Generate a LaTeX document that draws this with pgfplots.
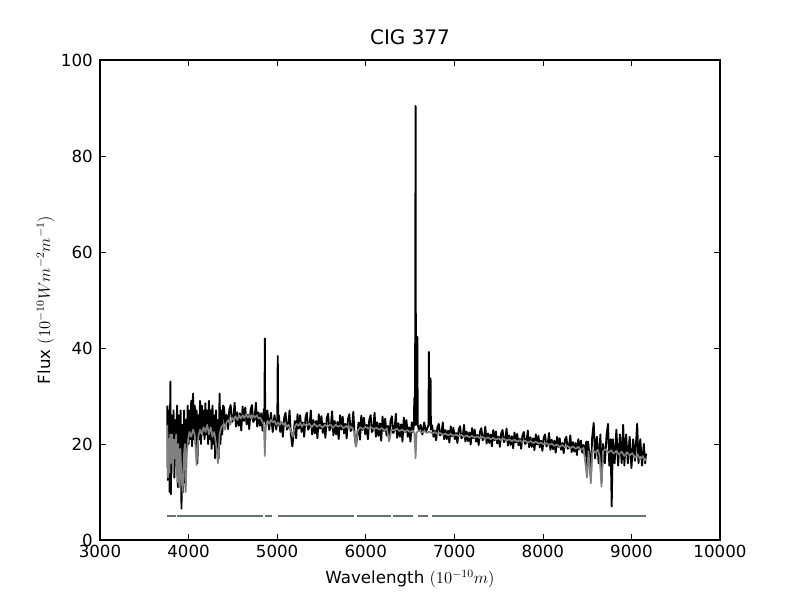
\documentclass[border=0pt]{standalone}
\usepackage{fontspec}
\setmainfont{DejaVu Sans}
\usepackage{pgfplots}
\pgfplotsset{compat=1.18}
\definecolor{maskc}{RGB}{100,114,118}
\definecolor{modelc}{RGB}{128,128,128}
\begin{document}
\begin{tikzpicture}
\path[use as bounding box] (0,0) rectangle (576pt,432pt);
\begin{axis}[
  at={(72pt,43.2pt)}, anchor=south west,
  scale only axis, width=446.4pt, height=345.6pt,
  xmin=3000, xmax=10000, ymin=0, ymax=100,
  xtick={3000,4000,...,10000}, ytick={0,20,...,100},
  minor tick num=0,
  tick align=inside, major tick length=4pt,
  xtick pos=both, ytick pos=both,
  axis line style={line width=0.8pt},
  tick style={line width=0.5pt, black},
  /pgf/number format/assume math mode=true,
  /pgf/number format/1000 sep={},
  scaled ticks=false,
  ticklabel style={font=\fontsize{12}{14}\selectfont},
  xticklabel style={inner sep=0pt, anchor=north, yshift=-3.6pt},
  yticklabel style={inner sep=0pt, anchor=east, xshift=-5pt},
  title={CIG 377},
  title style={font=\fontsize{14.4}{17}\selectfont, at={(axis description cs:0.5,1.0145)}, anchor=base, inner sep=0pt},
  xlabel={Wavelength $(10^{-10}m)$},
  ylabel={Flux $(10^{-10}Wm^{-2}m^{-1})$},
  label style={font=\fontsize{12}{14}\selectfont, inner sep=0pt},
  xlabel style={at={(axis description cs:0.5,-0.0897)}, anchor=base},
  ylabel style={at={(axis description cs:-0.0806,0.5)}, anchor=base},
  unbounded coords=jump,
  clip=true,
]
% observed spectrum
\addplot[black, line width=1.35pt, line join=round] coordinates {
(3760,28) (3765,12.5) (3770,25) (3775,14) (3780,27) (3785,10) (3790,24) (3795,33) (3800,9.5)
(3810,26) (3820,15) (3830,27) (3840,13) (3850,25) (3860,18) (3870,28) (3880,11) (3890,26)
(3900,15) (3910,27) (3920,6.5) (3930,24) (3940,10) (3950,27) (3960,12) (3970,25) (3980,19)
(3990,28) (4000,20) (4010,27) (4020,21) (4030,29) (4040,19.5) (4050,30.5) (4060,21) (4070,28)
(4080,20) (4090,27) (4100,16) (4110,26) (4120,21) (4130,29) (4140,20) (4150,28) (4160,22)
(4170,27) (4180,21) (4190,28.5) (4200,22) (4210,27) (4220,20) (4230,29) (4240,21) (4250,27)
(4260,19) (4270,28) (4280,20) (4290,26) (4300,17) (4310,27) (4320,19) (4330,25) (4340,17)
(4350,30.5) (4360,20) (4370,27) (4380,22) (4390,28)
(4400,27.6) (4415,24.1) (4430,26.1) (4445,23.1) (4460,27.1) (4475,28.1) (4490,24.6) (4505,25.1)
(4520,28.6) (4535,23.6) (4550,26.6) (4565,23.8) (4580,26.4) (4595,22.8) (4610,27.8) (4625,24.8)
(4640,27.6) (4655,24.1) (4670,26.1) (4685,23.1) (4700,27.1) (4715,28.1) (4730,24.6) (4745,25.1)
(4760,28.6) (4775,23.6) (4790,26.6) (4805,23.8) (4820,26.4) (4835,22.8) (4850,27.3)
(4857,25) (4861,42) (4865,25) (4875,24) (4890,27)
(4910,23) (4930,26.5) (4950,22.5) (4970,26) (4990,23) (5002,25) (5007,38.3) (5012,24)
(5020,26) (5035,22.5) (5050,24.5) (5065,21.5) (5080,25.5) (5095,26.5) (5110,23) (5125,23.5)
(5140,27) (5155,22) (5172,19.5) (5185,22.2) (5200,24.8) (5215,21.2) (5230,26.2) (5245,23.2)
(5260,26) (5275,22.5) (5290,24.5) (5305,21.5) (5320,25.5) (5335,26.5) (5350,23) (5365,23.5)
(5380,27) (5395,22) (5410,25) (5425,22.2) (5440,24.8) (5455,21.2) (5470,26.2) (5485,23.2)
(5500,25.8) (5515,22.3) (5530,24.3) (5545,21.3) (5560,25.3) (5575,26.3) (5590,22.8) (5605,23.3)
(5620,26.8) (5635,21.8) (5650,24.8) (5665,22) (5680,24.6) (5695,21) (5710,26) (5725,23)
(5740,25.7) (5755,22.2) (5770,24.2) (5785,21.2) (5800,25.2) (5815,26.2) (5830,22.7) (5845,23.2)
(5860,26.7) (5875,21.7) (5890,19.5) (5905,21.9) (5920,24.5) (5935,20.9) (5950,25.9) (5965,22.9)
(5980,25.5) (5995,22) (6010,24) (6025,21) (6040,25) (6055,26) (6070,22.5) (6085,23)
(6100,26.5) (6115,21.5) (6130,24.5) (6145,21.7) (6160,24.3) (6175,20.7) (6190,25.7) (6205,22.7)
(6220,25.3) (6235,21.8) (6250,23.8) (6265,20.8) (6280,24.8) (6295,25.8) (6310,22.3) (6325,22.8)
(6340,26.3) (6355,21.3) (6370,24.3) (6385,21.5) (6400,24.1) (6415,20.5) (6430,25.5) (6445,22.5)
(6460,25) (6475,21.5) (6490,23.5) (6505,20.5) (6520,24.5) (6535,22.5)
(6540,23.5) (6546,25) (6548,29.6) (6550,24) (6557,24)
(6563,90.4) (6567,24) (6578,25) (6583,42.3) (6587,24) (6600,23) (6620,24) (6640,22)
(6660,24.5) (6680,22.5) (6700,23.5) (6709,24) (6713,39.2) (6717,24) (6727,24) (6732,33.7)
(6736,23)
(6750,23.9) (6765,21.5) (6780,22.8) (6795,20.8) (6810,23.5) (6825,24.2) (6840,21.8) (6855,22.1)
(6870,24.5) (6885,21) (6900,22.9) (6915,21) (6930,22.8) (6945,20.3) (6960,23.7) (6975,21.6)
(6990,23.4) (7005,21) (7020,22.3) (7035,20.2) (7050,23) (7065,23.7) (7080,21.2) (7095,21.5)
(7110,24) (7125,20.5) (7140,22.6) (7155,20.6) (7170,22.4) (7185,19.9) (7200,23.3) (7215,21.2)
(7230,23) (7245,20.5) (7260,21.9) (7275,19.8) (7290,22.6) (7305,23.3) (7320,20.8) (7335,21.2)
(7350,23.6) (7365,20.1) (7380,22.2) (7395,20.2) (7410,22) (7425,19.5) (7440,22.9) (7455,20.8)
(7470,22.6) (7485,20.1) (7500,21.5) (7515,19.4) (7530,22.2) (7545,22.9) (7560,20.4) (7575,20.8)
(7590,23.2) (7605,19.7) (7620,21.8) (7635,19.8) (7650,21.6) (7665,19.1) (7680,22.4) (7695,20.3)
(7710,22.1) (7725,19.7) (7740,21.1) (7755,19) (7770,21.8) (7785,22.5) (7800,20) (7815,20.4)
(7830,22.8) (7845,19.3) (7860,21.4) (7875,19.4) (7890,21.2) (7905,18.7) (7920,22) (7935,19.9)
(7950,21.7) (7965,19.3) (7980,20.7) (7995,18.6) (8010,21.3) (8025,22) (8040,19.5) (8055,19.9)
(8070,22.3) (8085,18.8) (8100,20.9) (8115,18.9) (8130,20.7) (8145,18.2) (8160,21.5) (8175,19.4)
(8190,21.2) (8205,18.8) (8220,20.2) (8235,18.1) (8250,20.9) (8265,21.5) (8280,19) (8295,19.4)
(8310,21.8) (8325,18.3) (8340,20.4) (8355,18.4) (8370,20.2) (8385,17.7) (8400,21) (8415,18.9)
(8430,20.7) (8445,18.2) (8460,19.8) (8475,17.5) (8490,20.5)
(8500,14) (8510,20.5) (8530,17) (8542,13) (8555,21) (8574,24.4) (8590,17)
(8610,21.5) (8630,16) (8650,22) (8662,12) (8680,20) (8700,16) (8720,22) (8736,24.2)
(8750,15.5) (8765,21) (8777,7) (8790,21) (8810,16) (8830,23) (8850,15.5) (8870,22)
(8890,16) (8907,24) (8920,15.5) (8940,22) (8960,16) (8980,21.5) (9000,15) (9020,21)
(9040,16.5) (9065,24.2) (9080,16) (9100,21) (9120,15.5) (9140,20) (9155,16) (9165,18)
};
% model
\addplot[modelc, line width=1.2pt, line join=round] coordinates {
(3760,24) (3768,13) (3776,21) (3784,14) (3792,22) (3800,16) (3812,22) (3824,14) (3836,21)
(3848,17) (3860,22) (3872,12) (3884,20) (3896,11) (3908,19) (3920,13) (3934,10) (3948,18)
(3960,20) (3968,10) (3980,18) (3995,21) (4010,22.5) (4030,21.5) (4050,23) (4070,22)
(4090,15.6) (4110,21.5) (4130,23) (4150,22) (4170,23.5) (4190,22.5) (4210,24) (4230,22)
(4250,23.5) (4270,21.5) (4290,22.5) (4310,20) (4332,16) (4350,22) (4370,23.5) (4390,24)
(4410,23) (4430,24.5) (4450,25) (4470,24) (4490,25.5) (4510,25) (4530,25.8) (4550,25)
(4570,26) (4590,25.3) (4610,26) (4630,25.4) (4650,26.2) (4670,25.5) (4690,26) (4710,25.2)
(4730,26) (4750,25.5) (4770,26) (4790,25.3) (4810,25.5) (4830,24.8) (4850,24) (4861,17.5)
(4872,23.5) (4890,24.8) (4910,24.2) (4930,25) (4950,24.5) (4970,24.8) (4990,24) (5010,24.5)
(5030,24) (5050,24.6) (5070,24) (5090,24.4) (5110,23.6) (5130,24) (5150,23) (5175,21.5)
(5200,23.6) (5220,24.2) (5240,23.8) (5260,24.4) (5280,23.6) (5300,24.2) (5330,23.8)
(5360,24.3) (5390,23.5) (5420,24.2) (5450,23.6) (5480,24) (5510,23.4) (5540,24) (5570,23.6)
(5600,24.1) (5630,23.4) (5660,24) (5690,23.6) (5720,23.9) (5750,23.3) (5780,23.8) (5810,23.2)
(5840,23.6) (5870,22.5) (5890,19.5) (5910,22.8) (5940,23.5) (5970,23.1) (6000,23.6)
(6030,23.2) (6060,23.5) (6090,23.1) (6120,23.4) (6150,23) (6180,23.3) (6210,22.8) (6240,23.2)
(6264,20.5) (6290,23) (6320,22.8) (6350,23.2) (6380,22.7) (6410,23) (6440,22.6) (6470,22.9)
(6500,22.5) (6530,22.8) (6550,22.3) (6563,17) (6575,22.4) (6600,22.8) (6630,22.4) (6660,22.7)
(6690,22.3) (6720,22.6) (6750,22.2) (6780,22.5) (6810,22.1) (6840,22.3) (6870,21.9) (6900,22.2)
(6930,21.8) (6960,22.1) (6990,21.7) (7020,22) (7050,21.6) (7080,21.9) (7110,21.5) (7140,21.8)
(7170,21.4) (7200,21.7) (7230,21.3) (7260,21.6) (7290,21.2) (7320,21.5) (7350,21.1) (7380,21.4)
(7410,21) (7440,21.3) (7470,20.9) (7500,21.2) (7530,20.8) (7560,21.1) (7590,20.7) (7620,21)
(7650,20.6) (7680,20.9) (7710,20.5) (7740,20.8) (7770,20.4) (7800,20.7) (7830,20.3) (7860,20.6)
(7890,20.2) (7920,20.5) (7950,20.1) (7980,20.3) (8010,19.9) (8040,20.2) (8070,19.8) (8100,20.1)
(8130,19.6) (8160,19.9) (8190,19.4) (8220,19.8) (8250,19.3) (8280,19.6) (8310,19.1) (8340,19.5)
(8370,19) (8400,19.4) (8430,18.8) (8460,19.2) (8498,13) (8515,18.5) (8542,11.8) (8560,18.8)
(8590,18.2) (8620,18.8) (8640,17.5) (8662,11.1) (8680,18.5) (8710,18.9) (8740,18.2) (8770,18.7)
(8800,18) (8830,18.6) (8860,17.8) (8890,18.4) (8920,17.5) (8950,18.3) (8980,17.6) (9010,18.1)
(9040,17.2) (9070,17.8) (9100,16.8) (9130,17.5) (9150,16.5) (9165,17)
};
% mask
\addplot[maskc, line width=1.5pt] coordinates {
(3756,5) (3858,5) (3862,nan) (3866,5) (4840,5) (4850,nan) (4863,5) (4942,5) (4970,nan)
(5010,5) (5868,5) (5880,nan) (5902,5) (6285,5) (6295,nan) (6308,5) (6534,5) (6560,nan)
(6590,5) (6703,5) (6720,nan) (6748,5) (9165,5)
};
\end{axis}
\end{tikzpicture}
\end{document}
